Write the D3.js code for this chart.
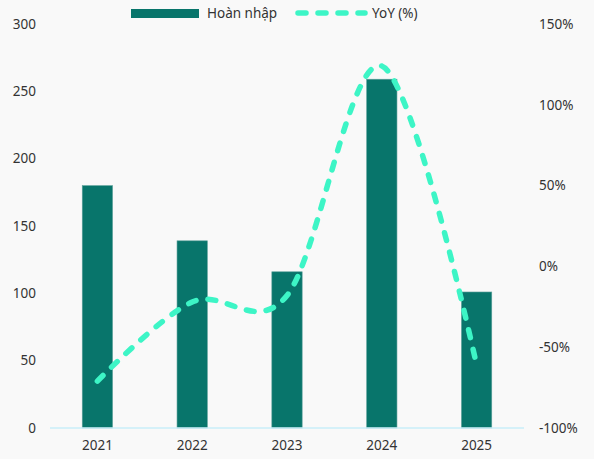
<!DOCTYPE html>
<html>
<head>
<meta charset="utf-8">
<script src="https://cdn.jsdelivr.net/npm/d3@7"></script>
<style>
  body { margin: 0; background: #f9f9f9; }
  svg { display: block; }
  text { font-family: "Noto Sans", "Open Sans", sans-serif; font-size: 13.5px; fill: #333; }
</style>
</head>
<body>
<div id="chart"></div>
<script>
var years = ['2021', '2022', '2023', '2024', '2025'];
var hoanNhap = [180, 139, 116, 259, 101];
var yoy = [-71, -22, -18, 124, -61];
var leftTicks = [0, 50, 100, 150, 200, 250, 300];
var rightTicks = [-100, -50, 0, 50, 100, 150];

var W = 594, H = 459;
var margin = {top: 24, right: 70, bottom: 31, left: 50},
    width = W - margin.left - margin.right,
    height = H - margin.top - margin.bottom;

var svg = d3.select('#chart')
    .append('svg')
    .attr('width', W)
    .attr('height', H);

svg.append('rect')
    .attr('width', W)
    .attr('height', H)
    .attr('fill', '#f9f9f9');

var g = svg.append('g')
    .attr('transform', 'translate(' + margin.left + ',' + margin.top + ')');

var xScale = d3.scaleBand()
    .domain(years)
    .range([0, width])
    .paddingInner(0.68)
    .paddingOuter(0.34);

var yLeft = d3.scaleLinear()
    .domain([0, 300])
    .range([height, 0]);

var yRight = d3.scaleLinear()
    .domain([-100, 150])
    .range([height, 0]);

// left axis
var leftAxis = d3.axisLeft(yLeft)
    .tickValues(leftTicks)
    .tickSize(0)
    .tickPadding(14);

g.append('g')
    .call(leftAxis)
    .call(function(s) { s.select('.domain').remove(); })
    .selectAll('text')
    .attr('fill', '#333');

// right axis
var rightAxis = d3.axisRight(yRight)
    .tickValues(rightTicks)
    .tickSize(0)
    .tickPadding(15)
    .tickFormat(function(d) { return d + '%'; });

g.append('g')
    .attr('transform', 'translate(' + width + ',0)')
    .call(rightAxis)
    .call(function(s) { s.select('.domain').remove(); })
    .selectAll('text')
    .attr('fill', '#333');

// x axis labels
var xAxis = d3.axisBottom(xScale)
    .tickSize(0)
    .tickPadding(12);

g.append('g')
    .attr('transform', 'translate(0,' + height + ')')
    .call(xAxis)
    .call(function(s) { s.select('.domain').remove(); })
    .selectAll('text')
    .attr('fill', '#333');

// bars
g.selectAll('.bar')
    .data(hoanNhap)
    .enter()
    .append('rect')
    .attr('class', 'bar')
    .attr('x', function(d, i) { return xScale(years[i]); })
    .attr('y', function(d) { return yLeft(d); })
    .attr('width', xScale.bandwidth())
    .attr('height', function(d) { return height - yLeft(d); })
    .attr('fill', '#08756b')
    .attr('stroke', '#5fa29c')
    .attr('stroke-width', 0.6);

// baseline
g.append('line')
    .attr('x1', 0)
    .attr('x2', width)
    .attr('y1', yLeft(0))
    .attr('y2', yLeft(0))
    .attr('stroke', '#c8eef8')
    .attr('stroke-width', 1.5);

// yoy line
var lineFunction = d3.line()
    .curve(d3.curveCardinal.tension(0))
    .x(function(d, i) { return xScale(years[i]) + xScale.bandwidth() / 2; })
    .y(function(d) { return yRight(d); });

g.append('path')
    .attr('d', lineFunction(yoy))
    .attr('fill', 'none')
    .attr('stroke', '#3df5c6')
    .attr('stroke-width', 5.5)
    .attr('stroke-linecap', 'round')
    .attr('stroke-dasharray', '8,12');

// legend
var legend = svg.append('g');

legend.append('rect')
    .attr('x', 131)
    .attr('y', 9)
    .attr('width', 68)
    .attr('height', 9)
    .attr('fill', '#08756b');

legend.append('text')
    .attr('x', 207)
    .attr('y', 13)
    .attr('dy', '0.35em')
    .text('Hoàn nhập');

legend.append('line')
    .attr('x1', 298)
    .attr('x2', 365)
    .attr('y1', 13)
    .attr('y2', 13)
    .attr('stroke', '#3df5c6')
    .attr('stroke-width', 5.5)
    .attr('stroke-linecap', 'round')
    .attr('stroke-dasharray', '8,12');

legend.append('text')
    .attr('x', 372)
    .attr('y', 13)
    .attr('dy', '0.35em')
    .text('YoY (%)');
</script>
</body>
</html>
